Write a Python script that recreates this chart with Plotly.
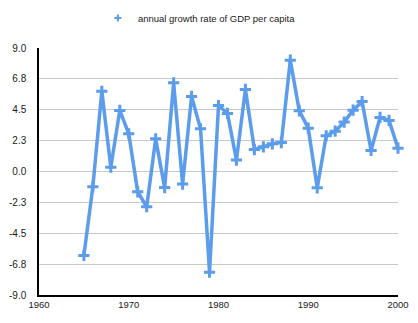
import plotly.graph_objects as go

years = list(range(1965, 2001))
growth = [-6.12, -1.12, 5.85, 0.31, 4.45, 2.75, -1.48, -2.57, 2.38, -1.17,
          6.46, -0.92, 5.47, 3.11, -7.34, 4.81, 4.23, 0.83, 5.98, 1.60,
          1.80, 2.02, 2.11, 8.11, 4.42, 3.16, -1.19, 2.60, 2.94, 3.60,
          4.47, 5.10, 1.53, 3.94, 3.72, 1.70]
series_name = "annual growth rate of GDP per capita"
y_ticks = [9.0, 6.75, 4.5, 2.25, 0.0, -2.25, -4.5, -6.75, -9.0]
y_ticktext = ["9.0", "6.8", "4.5", "2.3", "0.0", "-2.3", "-4.5", "-6.8", "-9.0"]
x_ticks = [1960, 1970, 1980, 1990, 2000]

color = "#5C9CEC"
fig = go.Figure()
fig.add_trace(go.Scatter(x=years, y=growth, mode="lines", showlegend=False,
                         cliponaxis=False,
                         line=dict(color=color, width=3.5)))
fig.add_trace(go.Scatter(x=years, y=growth, mode="markers", showlegend=False,
                         cliponaxis=False,
                         marker=dict(symbol="cross-thin", size=8, color=color,
                                     line=dict(color=color, width=3))))
# legend entry (small marker like the reference)
fig.add_trace(go.Scatter(x=[None], y=[None], mode="markers", name=series_name,
                         marker=dict(symbol="cross-thin", size=5, color=color,
                                     line=dict(color=color, width=2))))
fig.update_layout(
    width=418, height=323,
    margin=dict(l=39, r=20, t=48, b=28, autoexpand=False),
    paper_bgcolor="white", plot_bgcolor="white",
    font=dict(family="Liberation Sans, Arial, sans-serif", size=9.5, color="#1a1a1a"),
    legend=dict(orientation="h", x=0.164, xanchor="left", y=1.121, yanchor="middle",
                font=dict(size=9.5), itemwidth=30),
    xaxis=dict(range=[1960, 2000], tickvals=x_ticks, showgrid=False,
               showline=True, linecolor="black", linewidth=1.5, ticks="",
               zeroline=False, tickfont=dict(size=9.5)),
    yaxis=dict(range=[-9, 9], tickvals=y_ticks, ticktext=y_ticktext,
               showgrid=True, gridcolor="#c8c8c8", gridwidth=1,
               showline=True, linecolor="black", linewidth=1.5, ticks="",
               zeroline=False, tickfont=dict(size=10), ticklabelstandoff=9),
)
fig.write_html("out.html")
